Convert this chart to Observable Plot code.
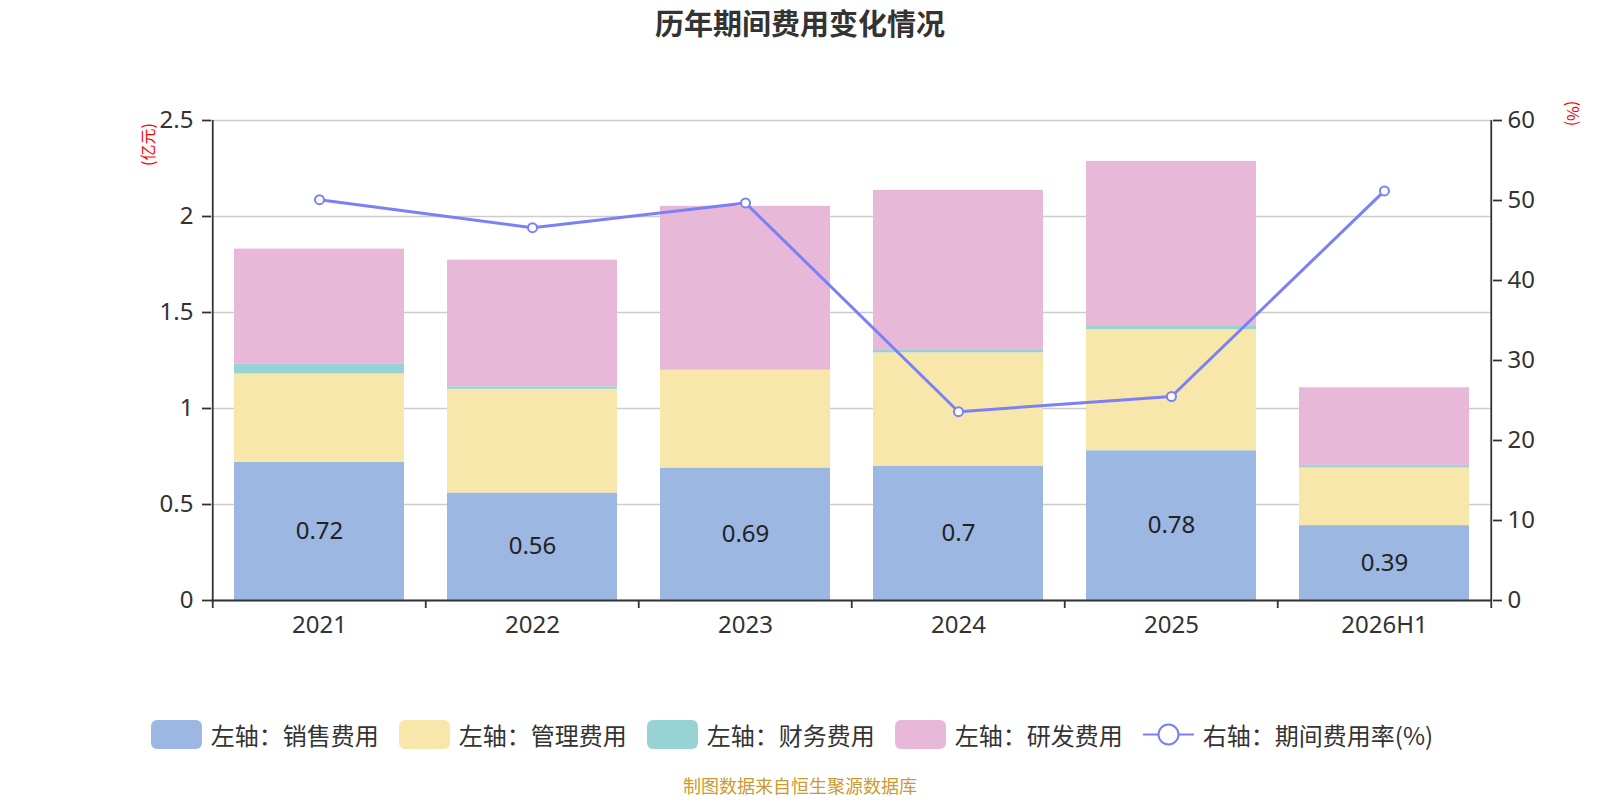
<!DOCTYPE html>
<html>
<head>
<meta charset="utf-8">
<script src="https://cdn.jsdelivr.net/npm/d3@7"></script>
<script src="https://cdn.jsdelivr.net/npm/@observablehq/plot@0.6"></script>
<style>
  body { margin: 0; background: #fff; font-family: "Noto Sans", "Noto Sans CJK SC", sans-serif; }
  #wrap { position: relative; width: 1600px; height: 800px; overflow: hidden; }
  #title { position: absolute; left: 0; top: 0; width: 1600px; height: 45px; line-height: 45px; text-align: center;
           font-family: "Noto Sans CJK SC", sans-serif; font-weight: bold; font-size: 29px; color: #333; }
  #chart { position: absolute; left: 0; top: 60px; }
  #legend { position: absolute; left: -8px; top: 712px; width: 1600px; height: 44px; display: flex; justify-content: center; align-items: center;
            font-family: "Noto Sans CJK SC", sans-serif; font-size: 24px; color: #333; }
  .item { display: flex; align-items: center; margin: 0 10px; }
  .sw { width: 51px; height: 29px; border-radius: 6px; margin-right: 9px; }
  .lineicon { width: 51px; height: 29px; margin-right: 9px; }
  #caption { position: absolute; left: 0; top: 774px; width: 1600px; text-align: center; font-family: "Noto Sans CJK SC", sans-serif;
             font-size: 18px; color: #cc9933; line-height: 22px; }
</style>
</head>
<body>
<div id="wrap">
  <div id="title">历年期间费用变化情况</div>
  <div id="chart"></div>
  <div id="legend"></div>
  <div id="caption">制图数据来自恒生聚源数据库</div>
</div>
<script>
// ---- data ----
const years = ["2021", "2022", "2023", "2024", "2025", "2026H1"];
const sales   = [0.72, 0.56, 0.69, 0.70, 0.78, 0.39];
const admin   = [0.46, 0.54, 0.51, 0.59, 0.63, 0.30];
const finance = [0.05, 0.013, 0.003, 0.016, 0.017, 0.008];
const rnd     = [0.60, 0.66, 0.85, 0.83, 0.86, 0.41];
const rate    = [50.1, 46.6, 49.7, 23.6, 25.5, 51.2];
const seriesNames = ["左轴：销售费用", "左轴：管理费用", "左轴：财务费用", "左轴：研发费用"];
const seriesColors = ["#9bb7e2", "#f8e7aa", "#97d3d5", "#e7b8d8"];
const lineName = "右轴：期间费用率(%)";
const lineColor = "#7b80f5";
const leftTicks = [0, 0.5, 1, 1.5, 2, 2.5];
const rightTicks = [0, 10, 20, 30, 40, 50, 60];
const leftUnit = "(亿元)";
const rightUnit = "(%)";

// ---- layout ----
const W = 1600, H = 630, ML = 211, MR = 108, MT = 60, MB = 90;
const step = (W - ML - MR) / years.length;
const k = leftTicks[leftTicks.length - 1] / rightTicks[rightTicks.length - 1];

const allSeries = [sales, admin, finance, rnd];
const rows = [];
allSeries.forEach((arr, s) => arr.forEach((v, i) => rows.push({year: years[i], series: seriesNames[s], value: v})));
const labelRows = years.map((y, i) => ({year: y, value: sales[i]}));
const lineRows = years.map((y, i) => ({year: y, rate: rate[i], v: rate[i] * k}));

const plot = Plot.plot({
  width: W, height: H,
  marginLeft: ML, marginRight: MR, marginTop: MT, marginBottom: MB,
  style: {fontFamily: '"Noto Sans", "Noto Sans CJK SC", sans-serif', fontSize: "24px", color: "#333", background: "#fff"},
  x: {domain: years, paddingInner: 0.2, paddingOuter: 0.1, label: null},
  y: {domain: [0, leftTicks[leftTicks.length - 1]], label: null},
  color: {domain: seriesNames, range: seriesColors},
  marks: [
    Plot.gridY(leftTicks, {stroke: "#ccc", strokeOpacity: 1, strokeWidth: 1.5}),
    Plot.barY(rows, {x: "year", y: "value", fill: "series"}),
    Plot.text(labelRows, {x: "year", y: d => d.value / 2, text: d => String(d.value), fontSize: 24, fill: "#222"}),
    Plot.line(lineRows, {x: "year", y: "v", stroke: lineColor, strokeWidth: 3}),
    Plot.dot(lineRows, {x: "year", y: "v", r: 4.5, fill: "#fff", stroke: lineColor, strokeWidth: 2}),
    // axis lines
    Plot.ruleY([0], {stroke: "#333", strokeWidth: 1.8}),
    Plot.ruleX([years[0]], {dx: -step / 2, stroke: "#333", strokeWidth: 1.8}),
    Plot.ruleX([years[years.length - 1]], {dx: step / 2, stroke: "#333", strokeWidth: 1.8}),
    // x boundary ticks
    Plot.ruleX(years, {x: d => d, dx: -step / 2, y1: 0, y2: 0, insetBottom: -8, stroke: "#333", strokeWidth: 1.8}),
    Plot.ruleX([years[years.length - 1]], {x: d => d, dx: step / 2, y1: 0, y2: 0, insetBottom: -8, stroke: "#333", strokeWidth: 1.8}),
    Plot.axisX({tickSize: 0, tickPadding: 15, label: null, fontSize: 24}),
    Plot.axisY(leftTicks, {anchor: "left", tickSize: 9, tickPadding: 9, label: null, stroke: "#333", strokeWidth: 1.8,
                           tickFormat: d => String(d), fontSize: 24}),
    Plot.axisY(rightTicks.map(t => t * k), {anchor: "right", tickSize: 9, tickPadding: 6, label: null, stroke: "#333", strokeWidth: 1.8,
                           tickFormat: d => String(Math.round(d / k)), fontSize: 24}),
    Plot.text([leftUnit], {frameAnchor: "top-left", dx: -63, dy: 24, rotate: -90, textAnchor: "middle", lineAnchor: "middle",
                           fill: "red", fontSize: 16, text: d => d, fontFamily: '"Noto Sans CJK SC", sans-serif'}),
    Plot.text([rightUnit], {frameAnchor: "top-right", dx: 80, dy: -7, rotate: 90, textAnchor: "middle", lineAnchor: "middle",
                           fill: "red", fontSize: 16, text: d => d, fontFamily: '"Noto Sans CJK SC", sans-serif'})
  ]
});
document.getElementById("chart").appendChild(plot);

// ---- legend ----
const legend = document.getElementById("legend");
seriesNames.forEach((n, i) => {
  const it = document.createElement("div");
  it.className = "item";
  it.innerHTML = `<div class="sw" style="background:${seriesColors[i]}"></div><span>${n}</span>`;
  legend.appendChild(it);
});
const li = document.createElement("div");
li.className = "item";
li.innerHTML = `<svg class="lineicon" width="51" height="29"><line x1="0" y1="14.5" x2="51" y2="14.5" stroke="${lineColor}" stroke-width="2"/>` +
  `<circle cx="25.5" cy="14.5" r="10" fill="#fff" stroke="${lineColor}" stroke-width="2"/></svg><span>${lineName}</span>`;
legend.appendChild(li);
</script>
</body>
</html>
